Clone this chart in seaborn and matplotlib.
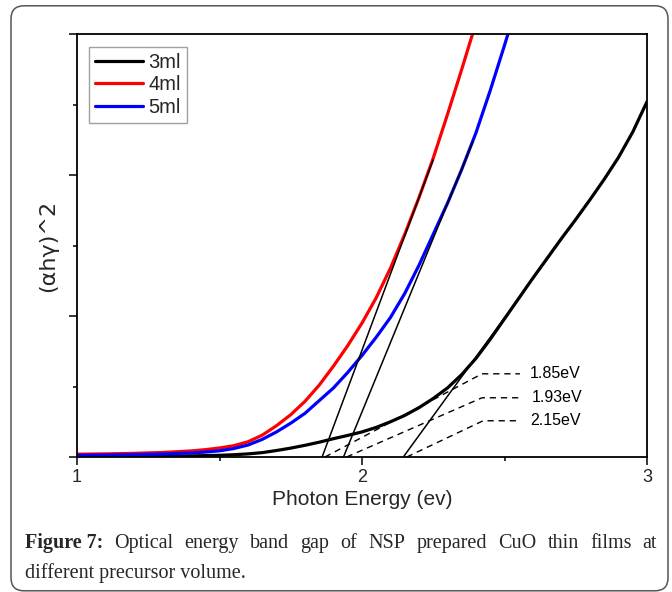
import numpy as np
import pandas as pd
import matplotlib
matplotlib.use("Agg")
import matplotlib.pyplot as plt
import seaborn as sns
from matplotlib.patches import FancyBboxPatch
from matplotlib.ticker import FixedLocator, NullFormatter
from matplotlib.lines import Line2D

# ---------------- data ----------------
x_3ml = [1.00, 1.10, 1.20, 1.30, 1.40, 1.50, 1.55, 1.60, 1.65, 1.70, 1.75, 1.80,
         1.85, 1.90, 1.95, 2.00, 2.05, 2.10, 2.15, 2.20, 2.25, 2.30, 2.35, 2.40,
         2.45, 2.50, 2.55, 2.60, 2.65, 2.70, 2.75, 2.80, 2.85, 2.90, 2.95, 3.00]
y_3ml = [0.004, 0.004, 0.005, 0.006, 0.008, 0.012, 0.016, 0.022, 0.031, 0.046, 0.063, 0.083,
         0.105, 0.13, 0.153, 0.178, 0.21, 0.25, 0.295, 0.35, 0.415, 0.49, 0.585, 0.70,
         0.835, 0.98, 1.125, 1.27, 1.41, 1.55, 1.685, 1.825, 1.97, 2.125, 2.305, 2.52]

x_4ml = [1.00, 1.10, 1.20, 1.30, 1.40, 1.45, 1.50, 1.55, 1.60, 1.65, 1.70, 1.75,
         1.80, 1.85, 1.90, 1.95, 2.00, 2.05, 2.10, 2.15, 2.20, 2.25, 2.30, 2.35,
         2.40, 2.45]
y_4ml = [0.020, 0.022, 0.026, 0.032, 0.043, 0.052, 0.064, 0.080, 0.108, 0.155, 0.222, 0.30,
         0.395, 0.51, 0.645, 0.79, 0.95, 1.13, 1.34, 1.58, 1.84, 2.12, 2.43, 2.75,
         3.08, 3.42]

x_5ml = [1.00, 1.10, 1.20, 1.30, 1.40, 1.45, 1.50, 1.55, 1.60, 1.65, 1.70, 1.75,
         1.80, 1.85, 1.90, 1.95, 2.00, 2.05, 2.10, 2.15, 2.20, 2.25, 2.30, 2.35,
         2.40, 2.45, 2.50, 2.55]
y_5ml = [0.012, 0.014, 0.017, 0.021, 0.029, 0.035, 0.044, 0.060, 0.085, 0.125, 0.178, 0.24,
         0.31, 0.40, 0.49, 0.60, 0.72, 0.85, 0.99, 1.16, 1.36, 1.58, 1.80, 2.04,
         2.30, 2.60, 2.92, 3.25]

series_names = ["3ml", "4ml", "5ml"]
series_colors = ["#000000", "#ff0000", "#0000ff"]

# tangent (extrapolation) lines: x-intercept, upper end point
tan_x0 = [1.86, 1.935, 2.145]
tan_x1 = [2.25, 2.39, 2.67]
tan_y1 = [2.11, 2.24, 1.46]

# dashed leader lines and band-gap labels
gap_labels = ["1.85eV", "1.93eV", "2.15eV"]
lead_x0 = [1.87, 1.946, 2.157]
lead_xb = [2.421, 2.421, 2.425]
lead_yb = [0.59, 0.42, 0.257]
lead_x1 = [2.554, 2.554, 2.554]
label_x = [2.59, 2.596, 2.59]

x_ticks = [1, 2, 3]
x_minor = [1.5, 2.5]
y_ticks = [0, 1, 2, 3]
y_minor = [0.5, 1.5, 2.5]

caption_bold = "Figure 7:"
caption_line1 = "Optical energy band gap of NSP prepared CuO thin films at"
caption_line2 = "different precursor volume."

# ---------------- figure ----------------
sns.set_theme(style="ticks")
plt.rcParams["font.family"] = ["Liberation Sans", "DejaVu Sans"]

W, H = 672, 592
fig = plt.figure(figsize=(W / 100, H / 100), dpi=100)
fig.patch.set_facecolor("white")

frame = FancyBboxPatch((0.11, 0.012), 6.57, 5.85,
                       boxstyle="round,pad=0,rounding_size=0.13",
                       transform=fig.dpi_scale_trans, fill=False,
                       edgecolor="#555555", linewidth=1.1)
fig.patches.append(frame)

ax = fig.add_axes([77 / W, 1 - 457 / H, 570 / W, 423 / H])
ax.set_facecolor("white")

df = pd.concat([
    pd.DataFrame({"x": x_3ml, "y": y_3ml, "series": "3ml"}),
    pd.DataFrame({"x": x_4ml, "y": y_4ml, "series": "4ml"}),
    pd.DataFrame({"x": x_5ml, "y": y_5ml, "series": "5ml"}),
], ignore_index=True)

palette = dict(zip(series_names, series_colors))
sns.lineplot(data=df, x="x", y="y", hue="series", hue_order=series_names,
             palette=palette, linewidth=2.3, estimator=None, ax=ax, legend=False)
for ln in ax.get_lines():
    ln.set_solid_joinstyle("round")

for x0, x1, y1 in zip(tan_x0, tan_x1, tan_y1):
    ax.plot([x0, x1], [0, y1], color="black", linewidth=1.1, solid_capstyle="butt")

for lab, a0, ab, yb, a1, lx in zip(gap_labels, lead_x0, lead_xb, lead_yb, lead_x1, label_x):
    ax.plot([a0, ab, a1], [0, yb, yb], color="black", linewidth=1.0,
            linestyle=(0, (4.5, 3.5)))
    ax.text(lx, yb, lab, fontsize=11.5, va="center", ha="left", color="black")

ax.set_xlim(1, 3)
ax.set_ylim(0, 3)
ax.xaxis.set_major_locator(FixedLocator(x_ticks))
ax.xaxis.set_minor_locator(FixedLocator(x_minor))
ax.yaxis.set_major_locator(FixedLocator(y_ticks))
ax.yaxis.set_minor_locator(FixedLocator(y_minor))
ax.set_xticklabels([str(t) for t in x_ticks])
ax.yaxis.set_major_formatter(NullFormatter())
ax.tick_params(axis="both", which="major", direction="out", length=5.5, width=1.1,
               color="black", labelsize=13, pad=3)
ax.tick_params(axis="both", which="minor", direction="out", length=3.2, width=1.1,
               color="black")
for s in ax.spines.values():
    s.set_visible(True)
    s.set_color("black")
    s.set_linewidth(1.3)

ax.set_xlabel("Photon Energy (ev)", fontsize=15, labelpad=3)
ax.set_ylabel("(αhγ)^2", fontsize=16, labelpad=5, family=["DejaVu Sans"])

handles = [Line2D([0], [0], color=c, linewidth=2.3) for c in series_colors]
leg = ax.legend(handles, series_names, loc="upper left",
                bbox_to_anchor=(0.021, 0.97), borderaxespad=0, frameon=True,
                fancybox=False, edgecolor="#8a8a8a", fontsize=14.5,
                handlelength=2.4, handletextpad=0.25, labelspacing=0.18,
                borderpad=0.3)
leg.get_frame().set_linewidth(1.0)

# caption (justified first line)
fig.canvas.draw()
renderer = fig.canvas.get_renderer()
cap_font = dict(family=["Liberation Serif", "DejaVu Serif"], fontsize=14.5)
left_px, right_px = 25, 657
base1 = 1 - 548 / H
base2 = 1 - 578 / H
t_b = fig.text(left_px / W, base1, caption_bold, fontweight="bold", va="baseline", **cap_font)
words = caption_line1.split()
w_b = t_b.get_window_extent(renderer).width
word_objs = [fig.text(0, base1, w, va="baseline", **cap_font) for w in words]
widths = [t.get_window_extent(renderer).width for t in word_objs]
total = w_b + sum(widths)
gap = (right_px - left_px - total) / len(words)
xpos = left_px + w_b + gap
for t, wd in zip(word_objs, widths):
    t.set_x(xpos / W)
    xpos += wd + gap
fig.text(left_px / W, base2, caption_line2, va="baseline", **cap_font)

fig.savefig("out.png", dpi=100, facecolor="white")
